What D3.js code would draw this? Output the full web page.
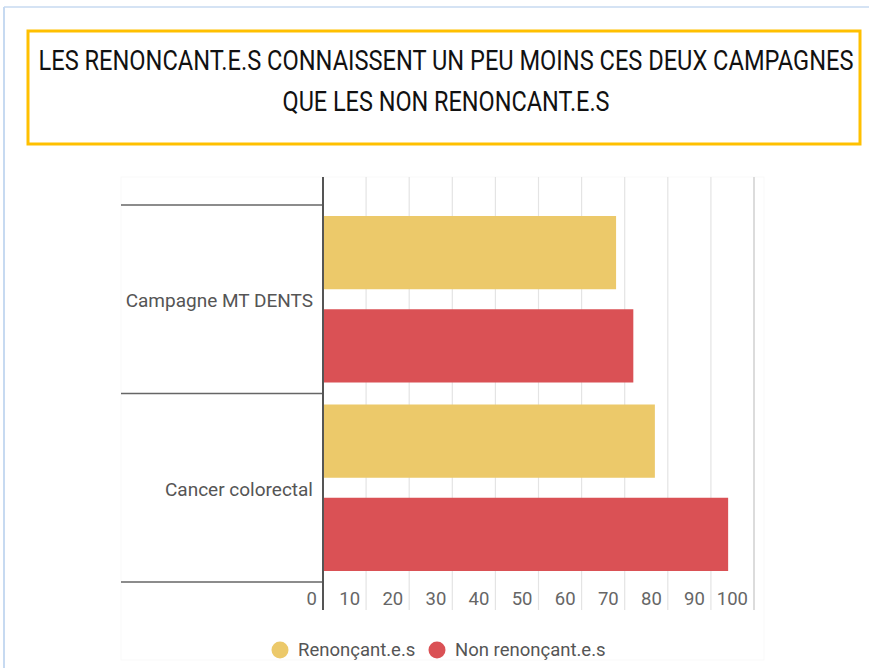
<!DOCTYPE html>
<html>
<head>
<meta charset="utf-8">
<script src="https://cdn.jsdelivr.net/npm/d3@7"></script>
<style>
  html, body { margin: 0; padding: 0; background: #fff; }
  svg { display: block; }
</style>
</head>
<body>
<svg id="chart" width="869" height="668"></svg>
<script>
// ---- data ----
const categories = ["Campagne MT DENTS", "Cancer colorectal"];
const seriesNames = ["Renonçant.e.s", "Non renonçant.e.s"];
const renoncants = [68, 77];
const nonRenoncants = [72, 94];
const tickValues = [0, 10, 20, 30, 40, 50, 60, 70, 80, 90, 100];
const titleLines = ["LES RENONCANT.E.S CONNAISSENT UN PEU MOINS CES DEUX CAMPAGNES", "QUE LES NON RENONCANT.E.S"];
const colors = ["#ECC96A", "#DA5155"];

const svg = d3.select("#chart");

// outer frame (light blue)
svg.append("line").attr("x1", 4).attr("x2", 4).attr("y1", 7).attr("y2", 668)
  .attr("stroke", "#c7daf1").attr("stroke-width", 2);
svg.append("line").attr("x1", 4).attr("x2", 869).attr("y1", 7).attr("y2", 7)
  .attr("stroke", "#c7daf1").attr("stroke-width", 1.5);

// title box
svg.append("rect").attr("x", 28).attr("y", 31).attr("width", 832).attr("height", 113)
  .attr("fill", "#fff").attr("stroke", "#FFC000").attr("stroke-width", 3);
const titleY = [70, 111];
const titleLen = [815, 327];
svg.selectAll("text.title").data(titleLines).enter().append("text")
  .attr("class", "title")
  .attr("x", 446).attr("y", (d, i) => titleY[i])
  .attr("text-anchor", "middle")
  .attr("textLength", (d, i) => titleLen[i])
  .attr("lengthAdjust", "spacingAndGlyphs")
  .style("font-family", "Roboto, sans-serif")
  .style("font-size", "28px")
  .style("font-weight", "400")
  .attr("fill", "#111")
  .text(d => d);

// chart area faint frame
svg.append("rect").attr("x", 121).attr("y", 177).attr("width", 643).attr("height", 483)
  .attr("fill", "none").attr("stroke", "#f9f9f9").attr("stroke-width", 1);

// scales
const x = d3.scaleLinear().domain([0, 100]).range([323, 754]);
const y = d3.scaleBand().domain(categories).range([205, 582]).padding(0);
const inner = d3.scaleBand().domain(seriesNames)
  .range([11, y.bandwidth() - 11]).paddingInner(0.2145);

const gridTop = 177, gridBottom = 610;

// gridlines
svg.append("g").selectAll("line").data(tickValues.filter(v => v > 0)).enter().append("line")
  .attr("x1", d => x(d)).attr("x2", d => x(d))
  .attr("y1", gridTop).attr("y2", gridBottom)
  .attr("stroke", d => d === 100 ? "#dcdcdc" : "#e4e4e4")
  .attr("stroke-width", d => d === 100 ? 2 : 1.2);

// tick labels (right aligned, left of gridline)
svg.append("g").selectAll("text").data(tickValues).enter().append("text")
  .attr("x", d => x(d) - 6).attr("y", 605)
  .attr("text-anchor", "end")
  .style("font-family", "Roboto, sans-serif").style("font-size", "18.5px")
  .attr("fill", "#666")
  .text(d => d);

// bars
const rows = categories.map((c, i) => ({ cat: c, vals: [renoncants[i], nonRenoncants[i]] }));
const g = svg.append("g");
rows.forEach(r => {
  r.vals.forEach((v, j) => {
    g.append("rect")
      .attr("x", x(0)).attr("y", y(r.cat) + inner(seriesNames[j]))
      .attr("width", x(v) - x(0)).attr("height", inner.bandwidth())
      .attr("fill", colors[j]);
  });
});

// category separator lines
const seps = categories.map(c => y(c)).concat([y.range()[1]]);
svg.append("g").selectAll("line").data(seps).enter().append("line")
  .attr("x1", 121).attr("x2", 323).attr("y1", d => d).attr("y2", d => d)
  .attr("stroke", "#666").attr("stroke-width", 1.5);

// axis line
svg.append("line").attr("x1", x(0)).attr("x2", x(0)).attr("y1", gridTop).attr("y2", gridBottom)
  .attr("stroke", "#555").attr("stroke-width", 2);

// category labels
svg.append("g").selectAll("text").data(categories).enter().append("text")
  .attr("x", 313).attr("y", d => y(d) + y.bandwidth() / 2 + 8)
  .attr("text-anchor", "end")
  .style("font-family", "Roboto, sans-serif").style("font-size", "19px")
  .attr("fill", "#555")
  .text(d => d);

// legend
const legendX = [280, 437];
const legend = svg.append("g");
seriesNames.forEach((s, i) => {
  legend.append("circle").attr("cx", legendX[i]).attr("cy", 650).attr("r", 8.5).attr("fill", colors[i]);
  legend.append("text").attr("x", legendX[i] + 18).attr("y", 656)
    .style("font-family", "Roboto, sans-serif").style("font-size", "18.5px")
    .attr("fill", "#555").text(s);
});
</script>
</body>
</html>
